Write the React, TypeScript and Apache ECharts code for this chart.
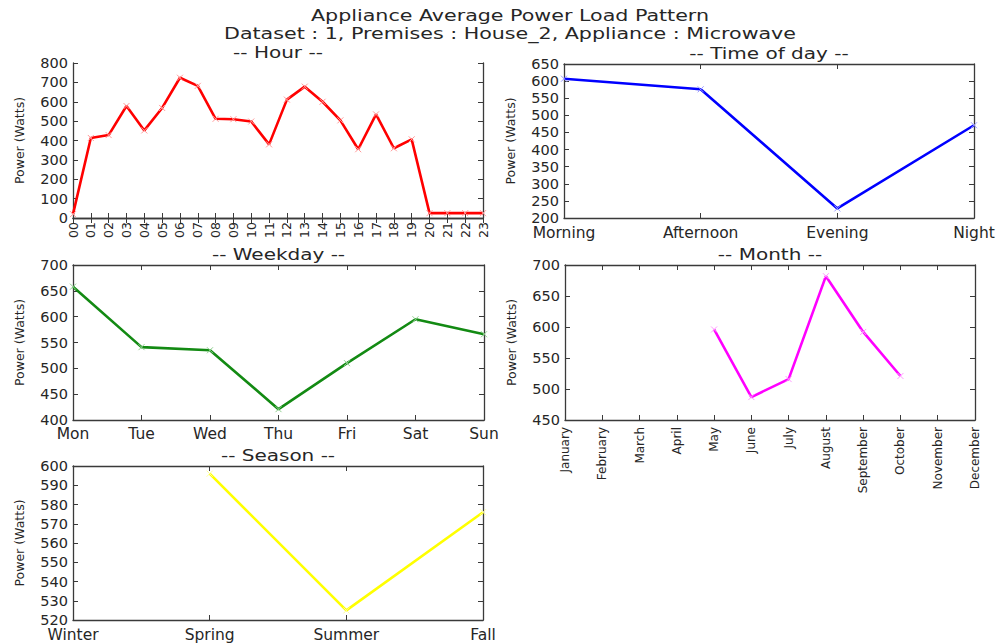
import React, { useEffect, useRef } from "react";
import * as echarts from "echarts";

// ---- data ----
const hourLabels = [
  "00", "01", "02", "03", "04", "05", "06", "07", "08", "09", "10", "11",
  "12", "13", "14", "15", "16", "17", "18", "19", "20", "21", "22", "23",
];
const hourLoad = [
  20, 413, 428, 578, 452, 568, 724, 682, 512, 510, 498, 380,
  611, 678, 600, 504, 355, 535, 360, 406, 25, 25, 25, 25,
];

const dayPartLabels = ["Morning", "Afternoon", "Evening", "Night"];
const dayPartLoad = [607, 576, 228, 471];

const weekdayLabels = ["Mon", "Tue", "Wed", "Thu", "Fri", "Sat", "Sun"];
const weekdayLoad = [658, 541, 535, 421, 510, 595, 566];

const monthLabels = [
  "January", "February", "March", "April", "May", "June",
  "July", "August", "September", "October", "November", "December",
];
const monthLoad = [null, null, null, null, 596, 487, 516, 682, 592, 521, null, null];

const seasonLabels = ["Winter", "Spring", "Summer", "Fall"];
const seasonLoad = [null, 596, 525, 576];

const FONT = "DejaVu Sans";
const TEXT = "#262626";
const FRAME = "#3a3a3a";
const CROSS = "path://M0,0L10,10M10,0L0,10";
const TITLE_STRETCH = 1.25;

type Panel = {
  title: string;
  rect: { left: number; top: number; width: number; height: number };
  cats: string[];
  values: (number | null)[];
  yMin: number;
  yMax: number;
  yStep: number;
  color: string;
  markColor: string;
  rotate: number;
  labelSize: number;
  labelMargin: number;
};

const panels: Panel[] = [
  {
    title: "-- Hour --",
    rect: { left: 73, top: 63, width: 410, height: 155 },
    cats: hourLabels, values: hourLoad, yMin: 0, yMax: 800, yStep: 100,
    color: "#ff0000", markColor: "#ff9a9a", rotate: 90, labelSize: 12.5, labelMargin: 4,
  },
  {
    title: "-- Time of day --",
    rect: { left: 564, top: 64, width: 410, height: 154 },
    cats: dayPartLabels, values: dayPartLoad, yMin: 200, yMax: 650, yStep: 50,
    color: "#0000ff", markColor: "#9a9aff", rotate: 0, labelSize: 15.5, labelMargin: 7,
  },
  {
    title: "-- Weekday --",
    rect: { left: 73, top: 265, width: 411, height: 155 },
    cats: weekdayLabels, values: weekdayLoad, yMin: 400, yMax: 700, yStep: 50,
    color: "#138a13", markColor: "#8fd08f", rotate: 0, labelSize: 15.5, labelMargin: 6,
  },
  {
    title: "-- Month --",
    rect: { left: 565, top: 265, width: 410, height: 155 },
    cats: monthLabels, values: monthLoad, yMin: 450, yMax: 700, yStep: 50,
    color: "#ff00ff", markColor: "#ff9aff", rotate: 90, labelSize: 12, labelMargin: 7,
  },
  {
    title: "-- Season --",
    rect: { left: 73, top: 466, width: 410, height: 154 },
    cats: seasonLabels, values: seasonLoad, yMin: 520, yMax: 600, yStep: 10,
    color: "#ffff00", markColor: "#ffff9a", rotate: 0, labelSize: 15.5, labelMargin: 7,
  },
];

function titleText(text: string, x: number, y: number, size: number) {
  return {
    type: "text", x, y, scaleX: TITLE_STRETCH,
    style: {
      text, fill: TEXT, font: `${size}px '${FONT}'`,
      textAlign: "center", textVerticalAlign: "middle",
    },
  };
}

function buildOption() {
  const grid: any[] = [];
  const xAxis: any[] = [];
  const yAxis: any[] = [];
  const series: any[] = [];
  const graphic: any[] = [
    titleText("Appliance Average Power Load Pattern", 510, 15, 16.5),
    titleText("Dataset : 1, Premises : House_2, Appliance : Microwave", 510, 33, 16.5),
  ];

  const lineStyle = { color: FRAME, width: 1.3 };
  const tickStyle = { show: true, inside: true, length: 5, lineStyle: { color: FRAME, width: 1 } };

  panels.forEach((p, i) => {
    grid.push({ ...p.rect, show: false, containLabel: false });

    // bottom category axis with labels, plus a mirrored top axis for the frame and ticks
    xAxis.push({
      type: "category", gridIndex: i, data: p.cats, boundaryGap: false, position: "bottom",
      axisLine: { show: true, lineStyle }, axisTick: { ...tickStyle, interval: 0 },
      axisLabel: {
        interval: 0, rotate: p.rotate, fontSize: p.labelSize, fontFamily: FONT,
        color: TEXT, margin: p.labelMargin, hideOverlap: false,
        showMinLabel: true, showMaxLabel: true,
      },
      splitLine: { show: false },
    });
    xAxis.push({
      type: "category", gridIndex: i, data: p.cats, boundaryGap: false, position: "top",
      axisLine: { show: true, lineStyle }, axisTick: { ...tickStyle, interval: 0 },
      axisLabel: { show: false }, splitLine: { show: false },
    });

    yAxis.push({
      type: "value", gridIndex: i, min: p.yMin, max: p.yMax, interval: p.yStep, position: "left",
      name: "Power (Watts)", nameLocation: "middle", nameGap: 47,
      nameTextStyle: { fontSize: 12.5, fontFamily: FONT, color: TEXT },
      axisLine: { show: true, lineStyle }, axisTick: tickStyle,
      axisLabel: {
        fontSize: 14.5, fontFamily: FONT, color: TEXT, margin: 5,
        showMinLabel: true, showMaxLabel: true, hideOverlap: false,
      },
      splitLine: { show: false },
    });
    yAxis.push({
      type: "value", gridIndex: i, min: p.yMin, max: p.yMax, interval: p.yStep, position: "right",
      axisLine: { show: true, lineStyle }, axisTick: tickStyle,
      axisLabel: { show: false }, splitLine: { show: false },
    });

    series.push({
      type: "line", xAxisIndex: 2 * i, yAxisIndex: 2 * i, data: p.values,
      connectNulls: false, symbol: CROSS, symbolSize: 6, showSymbol: true,
      lineStyle: { color: p.color, width: 2.6 },
      itemStyle: { color: "transparent", borderColor: p.markColor, borderWidth: 1 },
      emphasis: { disabled: true }, z: 3,
    });

    graphic.push(titleText(p.title, p.rect.left + p.rect.width / 2, p.rect.top - 11, 16));
  });

  return {
    animation: false,
    backgroundColor: "#ffffff",
    textStyle: { fontFamily: FONT },
    grid, xAxis, yAxis, series, graphic,
  };
}

export default function App() {
  const ref = useRef<HTMLDivElement>(null);

  useEffect(() => {
    if (!ref.current) return;
    const chart = echarts.init(ref.current, undefined, { renderer: "svg" });
    chart.setOption(buildOption());
    return () => chart.dispose();
  }, []);

  return (
    <div
      ref={ref}
      style={{ position: "fixed", left: 0, top: 0, width: 1000, height: 643, background: "#fff" }}
    />
  );
}
